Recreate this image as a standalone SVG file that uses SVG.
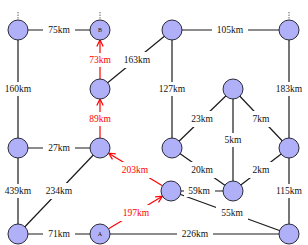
<svg xmlns="http://www.w3.org/2000/svg" width="308" height="245" viewBox="0 0 308 245">
<style>
.e{stroke:#1a1a1a;stroke-width:1.2;fill:none}
.r{stroke:#ff0000;stroke-width:1.2;fill:none;marker-end:url(#ah)}
.d{stroke:#555;stroke-width:1;stroke-dasharray:1.3,1.3}
.n{fill:#b0b0f8;stroke:#2a2a3a;stroke-width:1}
.bg{fill:#fff}
text{font-family:"Liberation Serif","Times New Roman",serif;font-size:9.5px;text-anchor:middle;dominant-baseline:central;fill:#111}
.rt{fill:#ff0000}
.nl{font-size:6px}
</style>
<defs>
<marker id="ah" viewBox="0 0 8 8" refX="7.5" refY="4" markerWidth="8" markerHeight="8" markerUnits="userSpaceOnUse" orient="auto">
<path d="M1,0.8 L7.5,4 L1,7.2" fill="none" stroke="#ff0000" stroke-width="1.2"/>
</marker>
</defs>
<rect width="308" height="245" fill="#fff"/>
<g id="connectors">
<line class="d" x1="18" y1="12" x2="18" y2="20"/>
<line class="d" x1="100" y1="12" x2="100" y2="20"/>
<line class="d" x1="289" y1="12" x2="289" y2="20"/>
<line class="e" x1="18" y1="30" x2="100" y2="30"/>
<line class="e" x1="18" y1="30" x2="18" y2="148"/>
<line class="e" x1="18" y1="148" x2="100" y2="148"/>
<line class="e" x1="18" y1="148" x2="18" y2="234"/>
<line class="e" x1="18" y1="234" x2="100" y2="234"/>
<line class="e" x1="18" y1="234" x2="100" y2="148"/>
<line class="e" x1="100" y1="89" x2="172" y2="30"/>
<line class="e" x1="172" y1="30" x2="289" y2="30"/>
<line class="e" x1="172" y1="30" x2="172" y2="148"/>
<line class="e" x1="289" y1="30" x2="289" y2="148"/>
<line class="e" x1="233" y1="89" x2="172" y2="148"/>
<line class="e" x1="233" y1="89" x2="233" y2="191"/>
<line class="e" x1="233" y1="89" x2="289" y2="148"/>
<line class="e" x1="172" y1="148" x2="233" y2="191"/>
<line class="e" x1="289" y1="148" x2="233" y2="191"/>
<line class="e" x1="289" y1="148" x2="289" y2="234"/>
<line class="e" x1="171" y1="191" x2="233" y2="191"/>
<line class="e" x1="171" y1="191" x2="289" y2="234"/>
<line class="e" x1="100" y1="234" x2="289" y2="234"/>
<line class="r" x1="100" y1="79" x2="100" y2="40"/>
<line class="r" x1="100" y1="138" x2="100" y2="99"/>
<line class="r" x1="162.4" y1="185.8" x2="108.6" y2="153.2"/>
<line class="r" x1="108.6" y1="228.8" x2="162.4" y2="196.2"/>
<g id="labels">
<rect class="bg" x="43" y="24" width="32" height="12"/><text x="59" y="30">75km</text>
<rect class="bg" x="3" y="82" width="30" height="14"/><text x="18" y="89">160km</text>
<rect class="bg" x="43" y="142" width="32" height="12"/><text x="59" y="148">27km</text>
<rect class="bg" x="3" y="184" width="30" height="14"/><text x="18" y="191">439km</text>
<rect class="bg" x="43" y="228" width="32" height="12"/><text x="59" y="234">71km</text>
<rect class="bg" x="41" y="183" width="36" height="16"/><text x="59" y="191">234km</text>
<rect class="bg" x="119" y="52" width="36" height="16"/><text x="137" y="60">163km</text>
<rect class="bg" x="212" y="24" width="36" height="12"/><text x="230" y="30">105km</text>
<rect class="bg" x="157" y="82" width="30" height="14"/><text x="172" y="89">127km</text>
<rect class="bg" x="274" y="82" width="30" height="14"/><text x="289" y="89">183km</text>
<rect class="bg" x="186" y="111" width="32" height="16"/><text x="202" y="119">23km</text>
<rect class="bg" x="222" y="133" width="22" height="14"/><text x="233" y="140">5km</text>
<rect class="bg" x="247" y="111" width="28" height="16"/><text x="261" y="119">7km</text>
<rect class="bg" x="186" y="162" width="32" height="16"/><text x="202" y="170">20km</text>
<rect class="bg" x="247" y="162" width="28" height="16"/><text x="261" y="170">2km</text>
<rect class="bg" x="274" y="184" width="30" height="14"/><text x="289" y="191">115km</text>
<rect class="bg" x="184" y="185" width="31" height="12"/><text x="199" y="191">59km</text>
<rect class="bg" x="216" y="205" width="32" height="16"/><text x="232" y="213">55km</text>
<rect class="bg" x="177" y="228" width="36" height="12"/><text x="195" y="234">226km</text>
<rect class="bg" x="86" y="53" width="28" height="14"/><text class="rt" x="100" y="60">73km</text>
<rect class="bg" x="86" y="112" width="28" height="14"/><text class="rt" x="100" y="119">89km</text>
<rect class="bg" x="117" y="162" width="36" height="16"/><text class="rt" x="135" y="170">203km</text>
<rect class="bg" x="118" y="205" width="36" height="16"/><text class="rt" x="136" y="213">197km</text>
</g>
</g>
<g id="n1"><circle class="n" cx="18" cy="30" r="10"/></g>
<g id="nB"><circle class="n" cx="100" cy="30" r="10"/><text class="nl" x="100" y="30">B</text></g>
<g id="n3"><circle class="n" cx="172" cy="30" r="10"/></g>
<g id="n4"><circle class="n" cx="289" cy="30" r="10"/></g>
<g id="n5"><circle class="n" cx="100" cy="89" r="10"/></g>
<g id="n6"><circle class="n" cx="233" cy="89" r="10"/></g>
<g id="n7"><circle class="n" cx="18" cy="148" r="10"/></g>
<g id="n8"><circle class="n" cx="100" cy="148" r="10"/></g>
<g id="n9"><circle class="n" cx="172" cy="148" r="10"/></g>
<g id="n10"><circle class="n" cx="289" cy="148" r="10"/></g>
<g id="n11"><circle class="n" cx="171" cy="191" r="10"/></g>
<g id="n12"><circle class="n" cx="233" cy="191" r="10"/></g>
<g id="n13"><circle class="n" cx="18" cy="234" r="10"/></g>
<g id="nA"><circle class="n" cx="100" cy="234" r="10"/><text class="nl" x="100" y="234">A</text></g>
<g id="n15"><circle class="n" cx="289" cy="234" r="10"/></g>
</svg>
